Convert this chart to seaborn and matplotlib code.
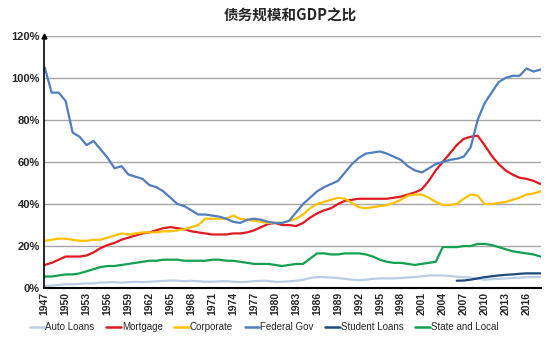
import numpy as np
import pandas as pd
import matplotlib
matplotlib.use("Agg")
import matplotlib.pyplot as plt
import seaborn as sns
from matplotlib.lines import Line2D

years = list(range(1947, 2019))

auto_loans = [0.8, 1.2, 1.5, 1.8, 1.8, 2.0, 2.2, 2.2, 2.6, 2.7, 2.8, 2.6, 2.8, 3.0, 2.8, 3.0,
              3.2, 3.4, 3.6, 3.5, 3.3, 3.4, 3.3, 3.0, 3.0, 3.2, 3.3, 3.0, 2.8, 3.0, 3.3, 3.5,
              3.4, 3.0, 3.0, 3.2, 3.5, 4.0, 4.8, 5.2, 5.2, 5.0, 4.8, 4.4, 4.0, 3.8, 4.0, 4.4,
              4.6, 4.6, 4.6, 4.8, 5.0, 5.3, 5.6, 6.0, 6.0, 6.0, 5.8, 5.4, 5.2, 5.0, 4.4, 4.0,
              4.2, 4.4, 4.6, 4.8, 5.0, 5.2, 5.2, 5.2]

mortgage = [11, 12, 13.5, 15, 15, 15, 15.5, 17, 19, 20.5, 21.5, 23, 24, 25, 26, 26.5,
            27.5, 28.5, 29, 28.5, 28, 27, 26.5, 26, 25.5, 25.5, 25.5, 26, 26, 26.5, 27.5, 29,
            30.5, 31, 30, 30, 29.5, 31, 33.5, 35.5, 37, 38, 40, 41.5, 42, 42.5, 42.5, 42.5,
            42.5, 42.5, 43, 43.5, 44.5, 45.5, 47, 51, 56, 60, 64, 68, 71, 72, 72.5, 68,
            63, 59, 56, 54, 52.5, 52, 51, 49.5]

corporate = [22.5, 23, 23.5, 23.5, 23, 22.5, 22.5, 23, 23, 24, 25, 26, 25.5, 26, 26.5, 26.5,
             26.5, 27, 27, 27.5, 28, 29, 30, 33, 33, 33, 33, 34.5, 33, 32.5, 32, 31.5,
             31, 31, 31, 32, 33, 35, 38, 40, 41, 42, 43, 42.5, 40.5, 38.5, 38, 38.5,
             39, 39.5, 40.5, 42, 44, 44.5, 44.5, 43, 41, 39.5, 39.5, 40, 42.5, 44.5, 44, 40,
             40, 40.5, 41, 42, 43, 44.5, 45, 46]

federal_gov = [105, 93, 93, 89, 74, 72, 68, 70, 66, 62, 57, 58, 54, 53, 52, 49,
               48, 46, 43, 40, 39, 37, 35, 35, 34.5, 34, 33, 31.5, 31, 32.5, 33, 32.5,
               31.5, 31, 31, 32, 36, 40, 43, 46, 48, 49.5, 51, 55, 59, 62, 64, 64.5,
               65, 64, 62.5, 61, 58, 56, 55, 57, 59, 60, 61, 61.5, 62.5, 67, 80, 88,
               93, 98, 100, 101, 101, 104.5, 103, 104]

student_loans = [np.nan] * 59 + [3.5, 3.6, 4.0, 4.6, 5.2, 5.6, 6.0, 6.3, 6.5, 6.8, 7.0, 7.0, 7.0]

state_local = [5.5, 5.5, 6, 6.5, 6.5, 7, 8, 9, 10, 10.5, 10.5, 11, 11.5, 12, 12.5, 13,
               13, 13.5, 13.5, 13.5, 13, 13, 13, 13, 13.5, 13.5, 13, 13, 12.5, 12, 11.5, 11.5,
               11.5, 11, 10.5, 11, 11.5, 11.5, 14, 16.5, 16.5, 16, 16, 16.5, 16.5, 16.5, 16, 15,
               13.5, 12.5, 12, 12, 11.5, 11, 11.5, 12, 12.5, 19.5, 19.5, 19.5, 20, 20, 21, 21,
               20.5, 19.5, 18.5, 17.5, 17, 16.5, 16, 15]

series_names = ["Auto Loans", "Mortgage", "Corporate", "Federal Gov", "Student Loans", "State and Local"]
series_values = [auto_loans, mortgage, corporate, federal_gov, student_loans, state_local]
colors = ["#B9CDE5", "#E0191E", "#FFC000", "#4F7DBD", "#1F4A7D", "#13A050"]

tick_years = list(range(1947, 2017, 3))
title = "债务规模和GDP之比"

rows = []
for name, vals in zip(series_names, series_values):
    for y, v in zip(years, vals):
        rows.append({"year": y, "value": v, "series": name})
df = pd.DataFrame(rows)

sns.set_style("white")
plt.rcParams["font.family"] = ["Liberation Sans", "Noto Sans CJK SC", "DejaVu Sans"]

fig = plt.figure(figsize=(5.5, 3.45), dpi=100)
ax = fig.add_axes([0.08, 0.165, 0.904, 0.731])

sns.lineplot(data=df, x="year", y="value", hue="series", hue_order=series_names,
             palette=colors, linewidth=1.6, ax=ax, legend=False)

ax.set_xlim(1946.9, 2018.1)
ax.set_ylim(0, 120)
ax.set_yticks(range(0, 121, 20))
ax.set_yticklabels([f"{v}%" for v in range(0, 121, 20)], fontsize=8, fontweight="bold")
ax.set_xticks(tick_years)
ax.set_xticklabels([str(y) for y in tick_years], rotation=90, fontsize=7.5, fontweight="bold")
ax.tick_params(axis="both", length=0, pad=3)
ax.yaxis.grid(True, color="#A6A6A6", linewidth=1)
ax.set_axisbelow(True)
for s in ["top", "right"]:
    ax.spines[s].set_visible(False)
ax.spines["left"].set_color("black")
ax.spines["left"].set_linewidth(1.2)
ax.spines["bottom"].set_color("black")
ax.spines["bottom"].set_linewidth(1.5)
ax.plot([0], [1.0], marker="^", color="black", markersize=3.5, transform=ax.transAxes, clip_on=False)
ax.set_xlabel("")
ax.set_ylabel("")

fig.text(0.527, 0.955, title, ha="center", va="center", fontsize=10.5, fontweight="bold",
         family=["Noto Sans CJK SC", "DejaVu Sans"])

handles = [Line2D([0], [0], color=c, lw=1.8) for c in colors]
fig.legend(handles, series_names, loc="center", bbox_to_anchor=(0.48, 0.052), ncol=6,
           frameon=False, fontsize=7, handlelength=1.5, handletextpad=0.1, columnspacing=1.2)

fig.savefig("out.png", dpi=100)
